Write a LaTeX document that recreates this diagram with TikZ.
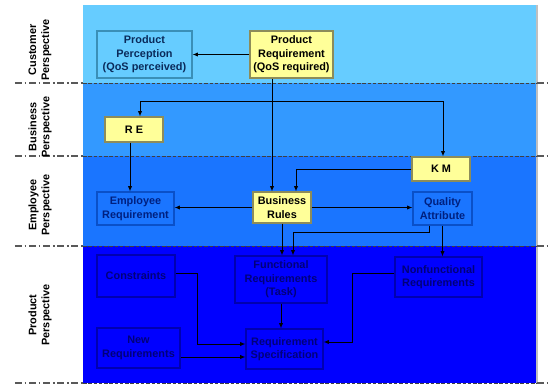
\documentclass[tikz,border=0pt]{standalone}
\usepackage{fontspec}
\setmainfont{Liberation Sans}
\usetikzlibrary{arrows.meta}
\tikzset{>={Latex[length=3pt,width=2.4pt]}}
\definecolor{bcu}{HTML}{66CCFF}
\definecolor{bbu}{HTML}{3399FF}
\definecolor{bem}{HTML}{1A75FF}
\definecolor{bpr}{HTML}{0000FF}
\definecolor{cyl}{HTML}{FFFF99}
\definecolor{cylb}{HTML}{8C8C5A}
\definecolor{ocu}{HTML}{3A8FB7}
\definecolor{oem}{HTML}{0A50C8}
\definecolor{opr}{HTML}{0000B0}
\definecolor{tcu}{HTML}{0A2A5A}
\definecolor{tem}{HTML}{00207F}
\definecolor{tpr}{HTML}{00007A}
\tikzset{
  box/.style={draw, line width=.6pt, inner sep=0pt, align=center,
    font=\bfseries\fontsize{6.2}{7.7}\selectfont},
  ybox/.style={box, fill=cyl, draw=cylb, text=black},
  cubox/.style={box, draw=ocu, text=tcu},
  embox/.style={box, draw=oem, text=tem},
  prbox/.style={box, draw=opr, text=tpr},
  lab/.style={rotate=90, align=center, font=\bfseries\fontsize{6.2}{7.4}\selectfont},
  sepout/.style={gray!70!black, line width=.6pt, dash pattern=on 4pt off 1.5pt on 1pt off 1.5pt},
  sepin/.style={black!75, line width=.5pt, dash pattern=on 2pt off 1pt},
  link/.style={->, line width=.55pt}
}

\begin{document}
\begin{tikzpicture}[x=0.02cm, y=-0.02cm]
    \useasboundingbox (0, 0) rectangle (549, 385);
    \fill[bcu](83, 5)rectangle(537, 83);
    \fill[bbu](83, 83)rectangle(537, 156);
    \fill[bem](83, 156)rectangle(537, 246);
    \fill[bpr](83, 246)rectangle(537, 383);
    \draw[gray!50, line width=.6pt](537, 5)--(537, 383);
    \foreach \y in {83, 156, 246, 383}{
        \draw[sepout](15, \y)--(83, \y);
        \draw[sepin](83, \y)--(537, \y);
        \draw[sepout](537, \y)--(549, \y);
    }
    \node[lab] (lcu) at(40, 50){Customer\\Perspective};
    \node[lab] (lbu) at(40, 127){Business\\Perspective};
    \node[lab] (lem) at(40, 205){Employee\\Perspective};
    \node[lab] (lpr) at(40, 315){Product\\Perspective};

    \node[cubox, minimum width=1.9cm, minimum height=.94cm] (PP) at(144.5, 54.5){Product\\Perception\\(QoS perceived)};
    \node[ybox, minimum width=1.66cm, minimum height=.94cm] (PR) at(291.5, 54.5){Product\\Requirement\\(QoS required)};
    \node[ybox, minimum width=1.16cm, minimum height=.5cm] (RE) at(134, 129.5){R E};
    \node[ybox, minimum width=1.16cm, minimum height=.48cm] (KM) at(441, 169){K M};
    \node[embox, minimum width=1.54cm, minimum height=.66cm] (ER) at(135.5, 208.5){Employee\\Requirement};
    \node[ybox, minimum width=1.16cm, minimum height=.62cm] (BR) at(282, 207.5){Business\\Rules};
    \node[embox, minimum width=1.18cm, minimum height=.66cm] (QA) at(442.5, 208.5){Quality\\Attribute};
    \node[prbox, minimum width=1.56cm, minimum height=.84cm] (CO) at(136, 276){Constraints};
    \node[prbox, minimum width=1.84cm, minimum height=.94cm] (FR) at(281, 279.5){Functional\\Requirements\\(Task)};
    \node[prbox, minimum width=1.74cm, minimum height=.8cm] (NF) at(438.5, 277){Nonfunctional\\Requirements};
    \node[prbox, minimum width=1.66cm, minimum height=.8cm] (NR) at(138.5, 348){New\\Requirements};
    \node[prbox, minimum width=1.54cm, minimum height=.8cm] (RS) at(284.5, 349){Requirement\\Specification};

    \coordinate (split) at(272, 101);
    \draw[link](PR.west)--(PP.east);
    \draw[link](PR.south -| split)--(BR.north -| split);
    \draw[link](split)-|([xshift=.12cm]RE.north);
    \draw[link](split)-|([xshift=.04cm]KM.north);
    \draw[link]([xshift=-.08cm]RE.south)--([xshift=-.08cm]RE.south |- ER.north);
    \draw[link](BR.west)--(BR.west -| ER.east);
    \draw[link](BR.east)--(BR.east -| QA.west);
    \draw[link](KM.west)-|([xshift=.28cm]BR.north);
    \draw[link](BR.south)--(BR.south |- FR.north);
    \draw[link]([xshift=-.27cm]QA.south)--++(0, 7)-|([xshift=.24cm]FR.north);
    \draw[link](QA.south)--(QA.south |- NF.north);
    \draw[link](FR.south)--(FR.south |- RS.north);
    \draw[link]([yshift=.06cm]CO.east)--++(22, 0)|-([yshift=.1cm]RS.west);
    \draw[link]([yshift=-.18cm]NR.east)--([yshift=-.18cm]NR.east -| RS.west);
    \draw[link]([yshift=.08cm]NF.west)--++(-42, 0)|-([yshift=.14cm]RS.east);
\end{tikzpicture}
\end{document}
